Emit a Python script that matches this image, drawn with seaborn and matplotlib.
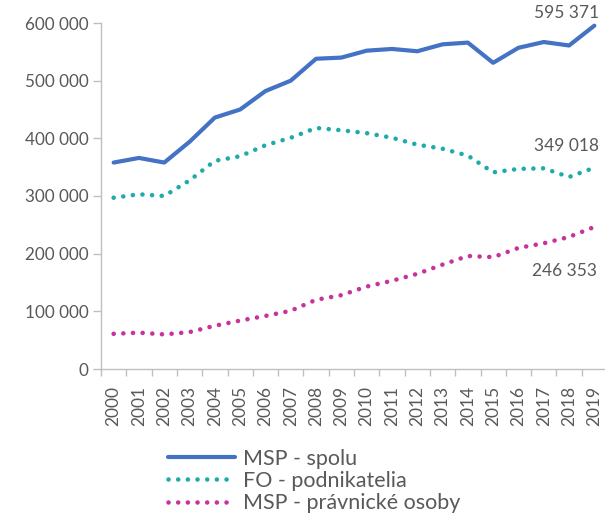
import numpy as np
import pandas as pd
import seaborn as sns
import matplotlib.pyplot as plt

# -------------------------
# Data
# -------------------------
roky = [str(r) for r in range(2000, 2020)]

msp_spolu = [358000, 366000, 358000, 394000, 436000, 450000, 482000, 500000, 538000, 540000,
             552000, 555000, 551000, 563000, 566000, 531000, 557000, 567000, 561000, 595371]
fo_podnikatelia = [297000, 303000, 300000, 327000, 361000, 369000, 388000, 401000, 418000, 414000,
                   409000, 401000, 389000, 382000, 370000, 341000, 347000, 348000, 333000, 349018]
msp_po = [61000, 63000, 60000, 64000, 75000, 84000, 92000, 101000, 120000, 128000,
          143000, 153000, 165000, 181000, 196000, 194000, 210000, 218000, 229000, 246353]

nazvy = ['MSP - spolu', 'FO - podnikatelia', 'MSP - právnické osoby']
farby = ['#4472C4', '#1FABA8', '#C8329C']
popisky = ['595 371', '349 018', '246 353']

df = pd.DataFrame({'rok': roky, nazvy[0]: msp_spolu, nazvy[1]: fo_podnikatelia, nazvy[2]: msp_po})
df['x'] = np.arange(len(roky))

# -------------------------
# Graf
# -------------------------
sns.set_style('white')
plt.rcParams['font.family'] = ['Lato', 'DejaVu Sans']
sivá = '#595959'

fig = plt.figure(figsize=(6.05, 5.19), dpi=100)
ax = fig.add_axes([101 / 605, 150 / 519, 506 / 605, 346 / 519])

sns.lineplot(data=df, x='x', y=nazvy[0], ax=ax, color=farby[0], linewidth=3.0,
             solid_capstyle='round', solid_joinstyle='round', label=nazvy[0])
for nazov, farba in zip(nazvy[1:], farby[1:]):
    sns.lineplot(data=df, x='x', y=nazov, ax=ax, color=farba, linewidth=3.3,
                 linestyle=(0, (0.01, 2.1)), dash_capstyle='round', label=nazov)

ax.set_xlim(-0.5, len(roky) - 0.5)
ax.set_ylim(0, 600000)
ax.set_yticks(np.arange(0, 600001, 100000))
ax.set_yticklabels([f'{v:,}'.replace(',', ' ') for v in range(0, 600001, 100000)],
                   fontsize=12.3, color=sivá)

# os x - ciarky medzi kategoriami, popisky v strede
ax.set_xticks(np.arange(-0.5, len(roky), 1.0))
ax.set_xticklabels([])
ax.set_xticks(np.arange(len(roky)), minor=True)
ax.set_xticklabels(roky, minor=True, rotation=90, fontsize=12.5, color=sivá)
ax.tick_params(axis='x', which='major', length=5, width=1, color='#BFBFBF', direction='out', bottom=True)
ax.tick_params(axis='x', which='minor', length=0, pad=12)
ax.tick_params(axis='y', length=6, width=1, color='#BFBFBF', direction='out', left=True, pad=3)
ax.set_xlabel('')
ax.set_ylabel('')

for s in ['top', 'right']:
    ax.spines[s].set_visible(False)
for s in ['left', 'bottom']:
    ax.spines[s].set_color('#BFBFBF')
    ax.spines[s].set_linewidth(1)
ax.grid(False)

# popisky poslednych hodnot
ax.text(19.2, 603000, popisky[0], ha='right', va='bottom', fontsize=12.5, color=sivá)
ax.text(19.2, 372000, popisky[1], ha='right', va='bottom', fontsize=12.5, color=sivá)
ax.text(19.1, 170000, popisky[2], ha='right', va='center', fontsize=12.5, color=sivá)

# legenda
ax.legend_.remove()
h, l = ax.get_legend_handles_labels()
leg = fig.legend(h, l, loc='center left', bbox_to_anchor=(168 / 605, 1 - 481 / 519),
                 frameon=False, fontsize=15.5, handlelength=3.1, handletextpad=0.4,
                 labelspacing=0.1, borderpad=0, borderaxespad=0, labelcolor=sivá)

fig.savefig('out.png', dpi=100)
